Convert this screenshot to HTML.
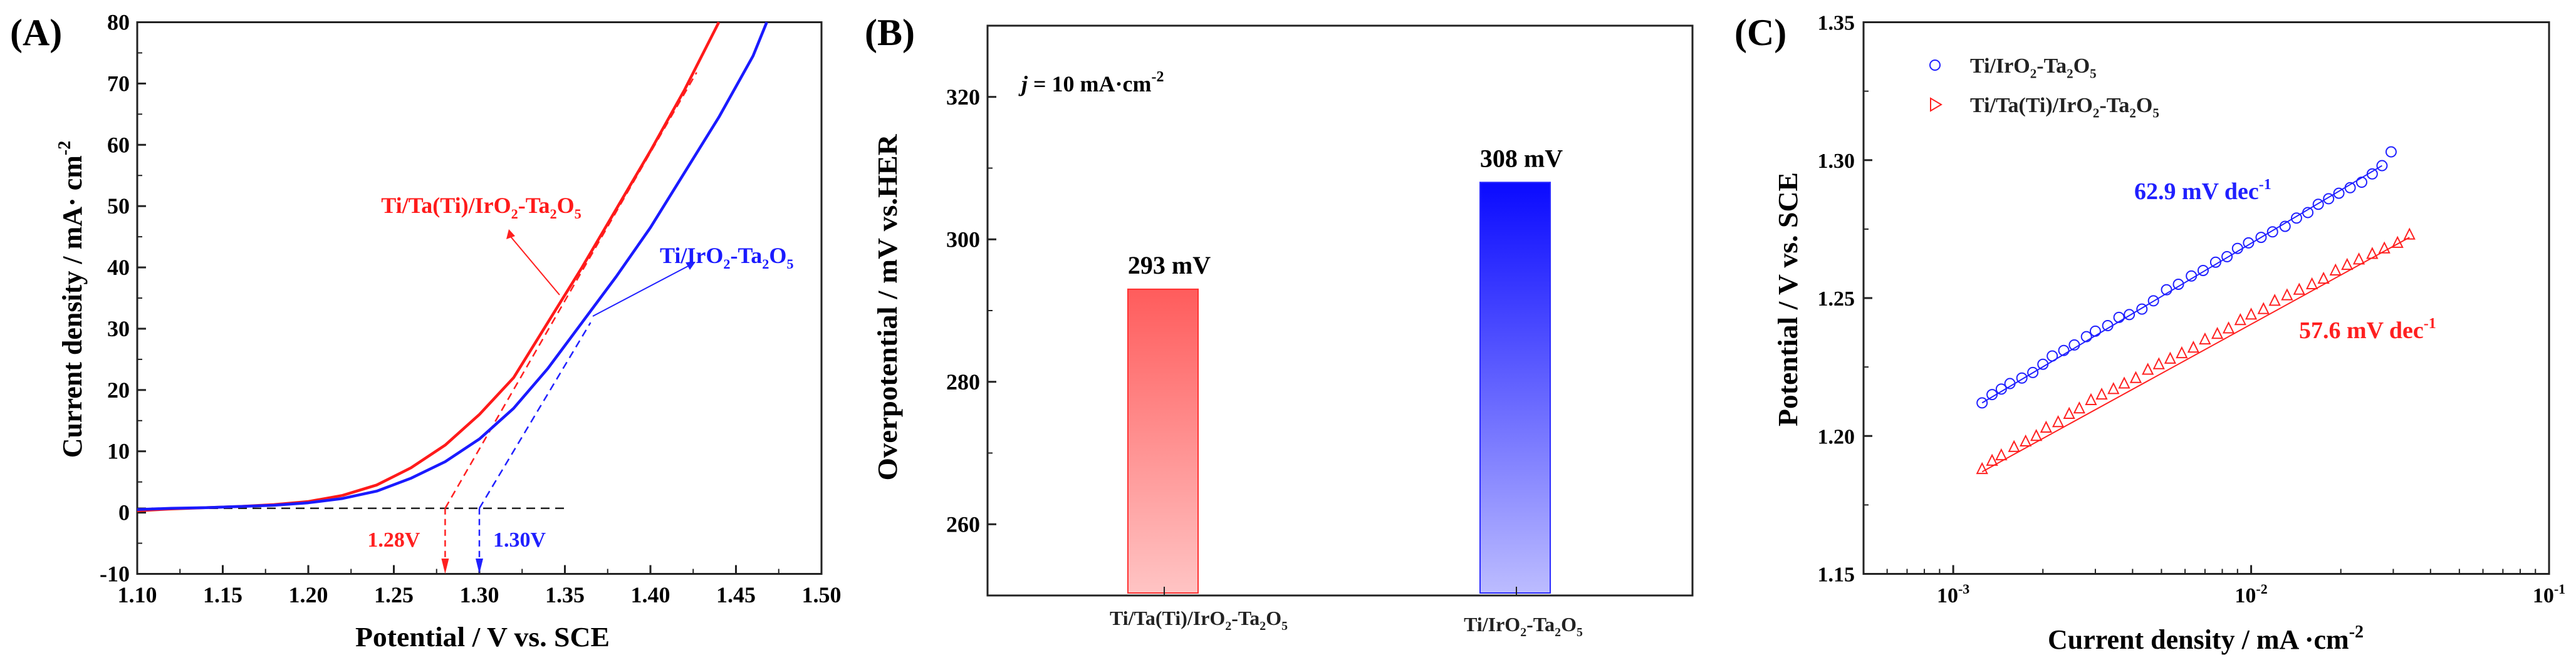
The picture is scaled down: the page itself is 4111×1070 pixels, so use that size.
<!DOCTYPE html>
<html><head><meta charset="utf-8"><style>
html,body{margin:0;padding:0;background:#fff;}
svg{display:block;font-family:"Liberation Serif",serif;font-weight:bold;}
</style></head><body>
<svg id="fig" width="4111" height="1070" viewBox="0 0 4111 1070" xmlns="http://www.w3.org/2000/svg">
<defs>
<linearGradient id="gr" x1="0" y1="0" x2="0" y2="1"><stop offset="0" stop-color="#ff5c5c"/><stop offset="1" stop-color="#ffc4c4"/></linearGradient>
<linearGradient id="gb" x1="0" y1="0" x2="0" y2="1"><stop offset="0" stop-color="#0a0aff"/><stop offset="1" stop-color="#bcbcff"/></linearGradient>
</defs>
<g id="pa"></g>
<g id="pb"></g>
<g id="pc"></g>
</svg>
<script>
// Panel A data
const aRedX=[1.10,1.12,1.14,1.16,1.18,1.20,1.22,1.24,1.26,1.28,1.30,1.32,1.34,1.36,1.38,1.40,1.42,1.44];
const aRedY=[0.3,0.6,0.8,1.0,1.3,1.8,2.8,4.5,7.3,11,16,22,31,40,49.5,59,69,80];
const aBlueX=[1.10,1.12,1.14,1.16,1.18,1.20,1.22,1.24,1.26,1.28,1.30,1.32,1.34,1.36,1.38,1.40,1.42,1.44,1.46,1.468];
const aBlueY=[0.5,0.7,0.8,1.0,1.2,1.6,2.3,3.5,5.6,8.3,12,17,23.5,31,38.5,46.5,55.5,64.5,74.5,80];
const aXTicks=[1.10,1.15,1.20,1.25,1.30,1.35,1.40,1.45,1.50];
const aYTicks=[-10,0,10,20,30,40,50,60,70,80];
// Panel B data
const bCats=["red","blue"];
const bVals=[293,308];
const bYTicks=[260,280,300,320];
// Panel C data
const cBlueX=[1.25e-3,1.35e-3,1.45e-3,1.55e-3,1.7e-3,1.85e-3,2.0e-3,2.15e-3,2.35e-3,2.55e-3,2.8e-3,3.0e-3,3.3e-3,3.6e-3,3.9e-3,4.3e-3,4.7e-3,5.2e-3,5.7e-3,6.3e-3,6.9e-3,7.6e-3,8.3e-3,9.0e-3,9.8e-3,1.08e-2,1.18e-2,1.3e-2,1.42e-2,1.55e-2,1.68e-2,1.82e-2,1.97e-2,2.15e-2,2.35e-2,2.55e-2,2.75e-2,2.95e-2];
const cBlueY=[1.212,1.215,1.217,1.219,1.221,1.223,1.226,1.229,1.231,1.233,1.236,1.238,1.240,1.243,1.244,1.246,1.249,1.253,1.255,1.258,1.260,1.263,1.265,1.268,1.270,1.272,1.274,1.276,1.279,1.281,1.284,1.286,1.288,1.290,1.292,1.295,1.298,1.303];
const cRedX=[1.25e-3,1.35e-3,1.45e-3,1.6e-3,1.75e-3,1.9e-3,2.05e-3,2.25e-3,2.45e-3,2.65e-3,2.9e-3,3.15e-3,3.45e-3,3.75e-3,4.1e-3,4.5e-3,4.9e-3,5.35e-3,5.85e-3,6.4e-3,7.0e-3,7.7e-3,8.4e-3,9.2e-3,1.0e-2,1.1e-2,1.2e-2,1.32e-2,1.45e-2,1.6e-2,1.75e-2,1.92e-2,2.1e-2,2.3e-2,2.55e-2,2.8e-2,3.1e-2,3.4e-2];
const cRedY=[1.188,1.191,1.193,1.196,1.198,1.200,1.203,1.205,1.208,1.210,1.213,1.215,1.217,1.219,1.221,1.224,1.226,1.228,1.230,1.232,1.235,1.237,1.239,1.242,1.244,1.246,1.249,1.251,1.253,1.255,1.257,1.260,1.262,1.264,1.266,1.268,1.270,1.273];
const cYTicks=[1.15,1.20,1.25,1.30,1.35];

const NS="http://www.w3.org/2000/svg";
function mk(parent,tag,attrs,text){const e=document.createElementNS(NS,tag);for(const k in attrs)e.setAttribute(k,attrs[k]);if(text!==undefined)e.textContent=text;parent.appendChild(e);return e;}

// ---------- Panel A ----------
const A=document.getElementById('pa');
const aL=219,aR=1311,aT=35.5,aB=916.5;
const ax=v=>aL+(v-1.10)/0.40*(aR-aL);
const ay=v=>aB-(v+10)/90*(aB-aT);
let fr=mk(A,'rect',{x:aL,y:aT,width:aR-aL,height:aB-aT,fill:'none',stroke:'#222','stroke-width':3});

aXTicks.forEach((t,i)=>{const x=ax(t);
 mk(A,'line',{x1:x,y1:aB,x2:x,y2:aB-14,stroke:'#222','stroke-width':3});
 if(i<aXTicks.length-1){const xm=ax(t+0.025);mk(A,'line',{x1:xm,y1:aB,x2:xm,y2:aB-8,stroke:'#222','stroke-width':2});}
 const l=mk(A,'text',{x:x,y:962,'font-size':36,'text-anchor':'middle'},t.toFixed(2));
 });
aYTicks.forEach((t,i)=>{const y=ay(t);
 mk(A,'line',{x1:aL,y1:y,x2:aL+14,y2:y,stroke:'#222','stroke-width':3});
 if(i<aYTicks.length-1){const ym=ay(t+5);mk(A,'line',{x1:aL,y1:ym,x2:aL+8,y2:ym,stroke:'#222','stroke-width':2});}
 const l=mk(A,'text',{x:aL-12,y:y+12,'font-size':36,'text-anchor':'end'},String(t));
 });
// baseline dashed
mk(A,'line',{x1:ax(1.10),y1:ay(0.7),x2:ax(1.352),y2:ay(0.7),stroke:'#222','stroke-width':2.5,'stroke-dasharray':'14 9'});
// tangent dashed lines
mk(A,'line',{x1:ax(1.28),y1:ay(0.7),x2:ax(1.427),y2:ay(71.8),stroke:'#ff2020','stroke-width':2.5,'stroke-dasharray':'12 8'});
mk(A,'line',{x1:ax(1.30),y1:ay(0.7),x2:ax(1.365),y2:ay(31),stroke:'#2020ff','stroke-width':2.5,'stroke-dasharray':'12 8'});
mk(A,'line',{x1:ax(1.28),y1:ay(0.7),x2:ax(1.28),y2:ay(-8.5),stroke:'#ff2020','stroke-width':2.5,'stroke-dasharray':'10 7'});
mk(A,'polygon',{points:`${ax(1.28)-6},${ay(-7.5)} ${ax(1.28)+6},${ay(-7.5)} ${ax(1.28)},${ay(-10)}`,fill:'#ff2020'});
mk(A,'line',{x1:ax(1.30),y1:ay(0.7),x2:ax(1.30),y2:ay(-8.5),stroke:'#2020ff','stroke-width':2.5,'stroke-dasharray':'10 7'});
mk(A,'polygon',{points:`${ax(1.30)-6},${ay(-7.5)} ${ax(1.30)+6},${ay(-7.5)} ${ax(1.30)},${ay(-10)}`,fill:'#2020ff'});
function poly(g,X,Y,fx,fy,col,name){const p=mk(g,'polyline',{points:X.map((v,i)=>fx(v)+','+fy(Y[i])).join(' '),fill:'none',stroke:col,'stroke-width':4.5,'stroke-linejoin':'round'});return p;}
poly(A,aRedX,aRedY,ax,ay,'#ff1a1a','red-lsv-curve');
poly(A,aBlueX,aBlueY,ax,ay,'#1a1aff','blue-lsv-curve');
// annotations
let t=mk(A,'text',{x:1.28?ax(1.28)-40:0,y:873,'font-size':34,fill:'#ff2020','text-anchor':'end'},'1.28V');
t=mk(A,'text',{x:ax(1.30)+22,y:873,'font-size':34,fill:'#2020ff'},'1.30V');
mk(A,'line',{x1:893,y1:471,x2:815,y2:378,stroke:'#ff2020','stroke-width':2});
mk(A,'polygon',{points:'812,366 808,382 822,377',fill:'#ff2020'});
mk(A,'line',{x1:946,y1:505,x2:1100,y2:424,stroke:'#2020ff','stroke-width':2});
mk(A,'polygon',{points:'1110,418 1094,419 1101,431',fill:'#2020ff'});
function chem(g,x,y,fs,col,parts,anchor,name){const e=mk(g,'text',{x:x,y:y,'font-size':fs,fill:col,'text-anchor':anchor||'start'});
 parts.forEach(p=>{if(typeof p==='string'){mk(e,'tspan',{},p);}else{mk(e,'tspan',{'font-size':fs*0.62,dy:fs*0.25},p.s);mk(e,'tspan',{dy:-fs*0.25},'\u200b');}});
 return e;}
chem(A,768,340,36,'#ff1a1a',['Ti/Ta(Ti)/IrO',{s:'2'},'-Ta',{s:'2'},'O',{s:'5'}],'middle','red-series-label');
chem(A,1053,420,36,'#1a1aff',['Ti/IrO',{s:'2'},'-Ta',{s:'2'},'O',{s:'5'}],'start','blue-series-label');
t=mk(A,'text',{x:16,y:72,'font-size':60},'(A)');
t=mk(A,'text',{x:770,y:1032,'font-size':44,'text-anchor':'middle',textLength:406,lengthAdjust:'spacingAndGlyphs'},'Potential / V vs. SCE');
t=mk(A,'text',{x:0,y:0,'font-size':44,'text-anchor':'middle',transform:'translate(130,478) rotate(-90)'});
mk(t,'tspan',{},'Current density / mA· cm');mk(t,'tspan',{'font-size':28,dy:-18},'-2');


// ---------- Panel B ----------
const B=document.getElementById('pb');
const bL=1576,bR=2701,bT=41,bB=951;
const by=v=>bB-(v-250)/80*(bB-bT);
const bCx=[1856,2418];
fr=mk(B,'rect',{x:bL,y:bT,width:bR-bL,height:bB-bT,fill:'none',stroke:'#222','stroke-width':3});

bYTicks.forEach(tk=>{const y=by(tk);
 mk(B,'line',{x1:bL,y1:y,x2:bL+14,y2:y,stroke:'#222','stroke-width':3});
 const ym=by(tk+10);mk(B,'line',{x1:bL,y1:ym,x2:bL+8,y2:ym,stroke:'#222','stroke-width':2});
 const l=mk(B,'text',{x:bL-12,y:y+12,'font-size':36,'text-anchor':'end'},String(tk));
 });
const bFill=['url(#gr)','url(#gb)'],bStroke=['#ff3030','#2a2aff'];
bVals.forEach((v,i)=>{const cx=bCx[i],w=112;
 const r=mk(B,'rect',{x:cx-w/2,y:by(v),width:w,height:by(250)-by(v)-4,fill:bFill[i],stroke:bStroke[i],'stroke-width':2});
 
 mk(B,'line',{x1:cx+2,y1:bB,x2:cx+2,y2:bB-14,stroke:'#222','stroke-width':2});
 const l=mk(B,'text',{x:cx+10,y:by(v)-25,'font-size':40,'text-anchor':'middle'},v+' mV');
 });
chem(B,1913,998,32,'#222',['Ti/Ta(Ti)/IrO',{s:'2'},'-Ta',{s:'2'},'O',{s:'5'}],'middle','category-label-1');
chem(B,2431,1008,32,'#222',['Ti/IrO',{s:'2'},'-Ta',{s:'2'},'O',{s:'5'}],'middle','category-label-2');
t=mk(B,'text',{x:1630,y:146,'font-size':36});
mk(t,'tspan',{'font-style':'italic'},'j');mk(t,'tspan',{},' = 10 mA·cm');mk(t,'tspan',{'font-size':24,dy:-16},'-2');

t=mk(B,'text',{x:1380,y:72,'font-size':60},'(B)');
t=mk(B,'text',{x:0,y:0,'font-size':44,'text-anchor':'middle',textLength:553,lengthAdjust:'spacingAndGlyphs',transform:'translate(1431,491) rotate(-90)'},'Overpotential / mV vs.HER');


// ---------- Panel C ----------
const C=document.getElementById('pc');
const cL=2974,cR=4068,cT=35.5,cB=916.5;
const lmin=Math.log10(5e-4),lmax=-1;
const cx=v=>cL+(Math.log10(v)-lmin)/(lmax-lmin)*(cR-cL);
const cy=v=>cB-(v-1.15)/0.20*(cB-cT);
fr=mk(C,'rect',{x:cL,y:cT,width:cR-cL,height:cB-cT,fill:'none',stroke:'#222','stroke-width':3});

[-3,-2,-1].forEach(e=>{const x=cx(Math.pow(10,e));
 mk(C,'line',{x1:x,y1:cB,x2:x,y2:cB-14,stroke:'#222','stroke-width':3});
 const l=mk(C,'text',{x:x,y:962,'font-size':34,'text-anchor':'middle'});
 mk(l,'tspan',{},'10');mk(l,'tspan',{'font-size':22,dy:-14},String(e));
 });
for(let e=-4;e<=-2;e++)for(let m=2;m<=9;m++){const v=m*Math.pow(10,e);if(v<5e-4)continue;const x=cx(v);
 mk(C,'line',{x1:x,y1:cB,x2:x,y2:cB-8,stroke:'#222','stroke-width':2});}
cYTicks.forEach((tk,i)=>{const y=cy(tk);
 mk(C,'line',{x1:cL,y1:y,x2:cL+14,y2:y,stroke:'#222','stroke-width':3});
 if(i<cYTicks.length-1){const ym=cy(tk+0.025);mk(C,'line',{x1:cL,y1:ym,x2:cL+8,y2:ym,stroke:'#222','stroke-width':2});}
 const l=mk(C,'text',{x:cL-14,y:y+12,'font-size':34,'text-anchor':'end'},tk.toFixed(2));
 });
// fit lines
const fitB=mk(C,'line',{x1:cx(cBlueX[0]),y1:cy(cBlueY[0]),x2:cx(cBlueX[cBlueX.length-2]),y2:cy(cBlueY[cBlueY.length-2]),stroke:'#2020ff','stroke-width':2});

const fitR=mk(C,'line',{x1:cx(cRedX[0]),y1:cy(cRedY[0]-0.001),x2:cx(cRedX[cRedX.length-1]),y2:cy(cRedY[cRedY.length-1]-0.001),stroke:'#ff2020','stroke-width':2});

cBlueX.forEach((v,i)=>{const c=mk(C,'circle',{cx:cx(v),cy:cy(cBlueY[i]),r:8,fill:'none',stroke:'#2020ff','stroke-width':2});
 });
cRedX.forEach((v,i)=>{const X=cx(v),Y=cy(cRedY[i]);
 const p=mk(C,'polygon',{points:`${X-8},${Y+7} ${X+8},${Y+7} ${X},${Y-9}`,fill:'none',stroke:'#ff2020','stroke-width':2});
 });
// legend
let lc=mk(C,'circle',{cx:3088,cy:104,r:8,fill:'none',stroke:'#2020ff','stroke-width':2});
lc=mk(C,'polygon',{points:'3081,157 3081,177 3098,167',fill:'none',stroke:'#ff2020','stroke-width':2});
chem(C,3144,116,34,'#222',['Ti/IrO',{s:'2'},'-Ta',{s:'2'},'O',{s:'5'}],'start','legend-blue-label');
chem(C,3144,179,34,'#222',['Ti/Ta(Ti)/IrO',{s:'2'},'-Ta',{s:'2'},'O',{s:'5'}],'start','legend-red-label');
t=mk(C,'text',{x:3406,y:318,'font-size':38,fill:'#2020ff'});mk(t,'tspan',{},'62.9 mV dec');mk(t,'tspan',{'font-size':24,dy:-16},'-1');

t=mk(C,'text',{x:3669,y:540,'font-size':38,fill:'#ff2020'});mk(t,'tspan',{},'57.6 mV dec');mk(t,'tspan',{'font-size':24,dy:-16},'-1');

t=mk(C,'text',{x:2768,y:72,'font-size':60},'(C)');
t=mk(C,'text',{x:3520,y:1036,'font-size':44,'text-anchor':'middle'});
mk(t,'tspan',{},'Current density / mA ·cm');mk(t,'tspan',{'font-size':28,dy:-18},'-2');

t=mk(C,'text',{x:0,y:0,'font-size':44,'text-anchor':'middle',textLength:406,lengthAdjust:'spacingAndGlyphs',transform:'translate(2868,478) rotate(-90)'},'Potential / V vs. SCE');

</script>
</body></html>
